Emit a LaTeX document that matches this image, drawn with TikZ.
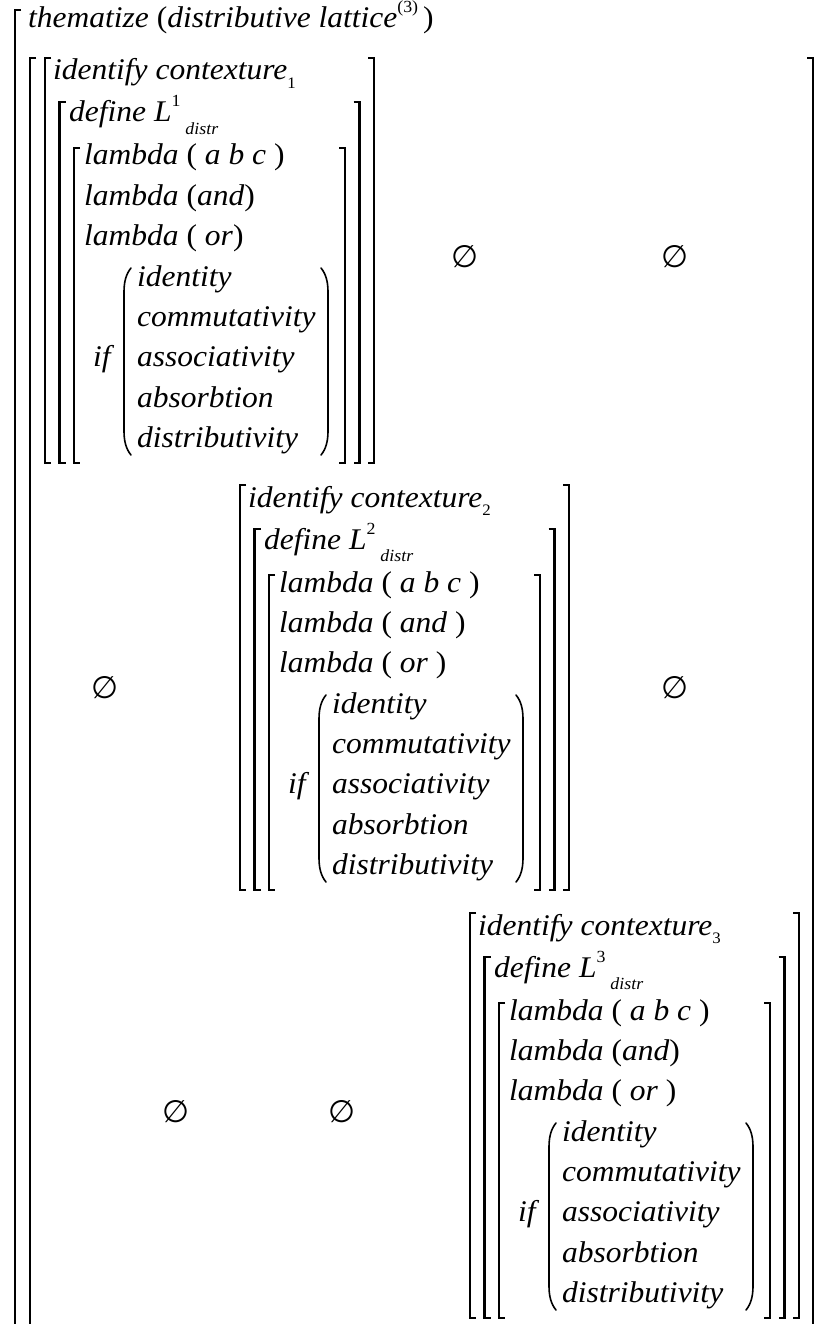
\documentclass[tikz,border=0pt]{standalone}
\usepackage{fontspec}
\setmainfont{Liberation Serif}[FakeStretch=1.05]
\newfontfamily\symf{DejaVu Sans}
\newcommand\sbs[1]{\raisebox{-0.42em}{\fontsize{17}{17}\selectfont #1}}
\newcommand\sbd[1]{\raisebox{-0.28em}{\fontsize{16}{16}\selectfont\upshape #1}}
\newcommand\sps[1]{\raisebox{0.5em}{\fontsize{17}{17}\selectfont\upshape #1}}
\newcommand\up[1]{\textup{#1}}
\tikzset{
  brk/.style={line width=2.2pt, line join=miter, line cap=butt},
  par/.style={line width=1.6pt, line cap=round},
  txt/.style={anchor=base west, inner sep=0pt, font=\itshape\fontsize{30}{30}\selectfont},
  es/.style={inner sep=0pt, font=\symf\fontsize{31}{31}\selectfont}
}
% #1 name prefix, #2 x, #3 top, #4 index, #5 and-line, #6 or-line
\newcommand\blk[6]{%
\begin{scope}[shift={(#2,#3)}]
  \draw[brk] (6,0) -- (0,0) -- (0,405) -- (6,405);
  \draw[brk] (323,0) -- (329,0) -- (329,405) -- (323,405);
  \draw[brk] (20.5,44) -- (14.5,44) -- (14.5,405) -- (20.5,405);
  \draw[brk] (308.5,44) -- (314.5,44) -- (314.5,405) -- (308.5,405);
  \draw[brk] (35,90) -- (29,90) -- (29,405) -- (35,405);
  \draw[brk] (294,90) -- (300,90) -- (300,405) -- (294,405);
  \draw[par] (86,210) .. controls (81,216) and (79,224) .. (79,234) -- (79,373) .. controls (79,383) and (81,391) .. (86,397);
  \draw[par] (276,210) .. controls (281,216) and (283,224) .. (283,234) -- (283,373) .. controls (283,383) and (281,391) .. (276,397);
  \node[txt] (#1id) at (8,22) {identify contexture\sbd{#4}};
  \node[txt] (#1df) at (24,64) {define L\sps{#4}\,\sbs{distr}};
  \node[txt] (#1la) at (39,107) {lambda \up{(} a b c \up{)}};
  \node[txt] (#1lb) at (39,147.3) {#5};
  \node[txt] (#1lc) at (39,187.6) {#6};
  \node[txt] (#1if) at (48,308.5) {if};
  \node[txt] (#1i1) at (92,228) {identity};
  \node[txt] (#1i2) at (92,268) {commutativity};
  \node[txt] (#1i3) at (92,308.5) {associativity};
  \node[txt] (#1i4) at (92,349) {absorbtion};
  \node[txt] (#1i5) at (92,389) {distributivity};
\end{scope}}
\begin{document}
\begin{tikzpicture}[x=1pt,y=-1pt]
\useasboundingbox (0,0) rectangle (820,1324);
% outer bracket and matrix brackets
\draw[brk] (21,10) -- (15,10) -- (15,1330);
\draw[brk] (36,58) -- (30,58) -- (30,1330);
\draw[brk] (807,58) -- (813,58) -- (813,1330);
\node[txt] (thm) at (28,28) {thematize \up{(}distributive lattice\sps{(3)}\,\up{)}};
% blocks
\blk{a}{45}{58}{1}{lambda \up{(}and\up{)}}{lambda \up{(} or\up{)}}
\blk{b}{240}{485}{2}{lambda \up{(} and \up{)}}{lambda \up{(} or \up{)}}
\blk{c}{470}{913}{3}{lambda \up{(}and\up{)}}{lambda \up{(} or \up{)}}
% empty sets
\node[es] (e12) at (465,257) {∅};
\node[es] (e13) at (675,257) {∅};
\node[es] (e21) at (105,688) {∅};
\node[es] (e23) at (675,688) {∅};
\node[es] (e31) at (176,1112) {∅};
\node[es] (e32) at (342,1112) {∅};
\end{tikzpicture}
\end{document}
